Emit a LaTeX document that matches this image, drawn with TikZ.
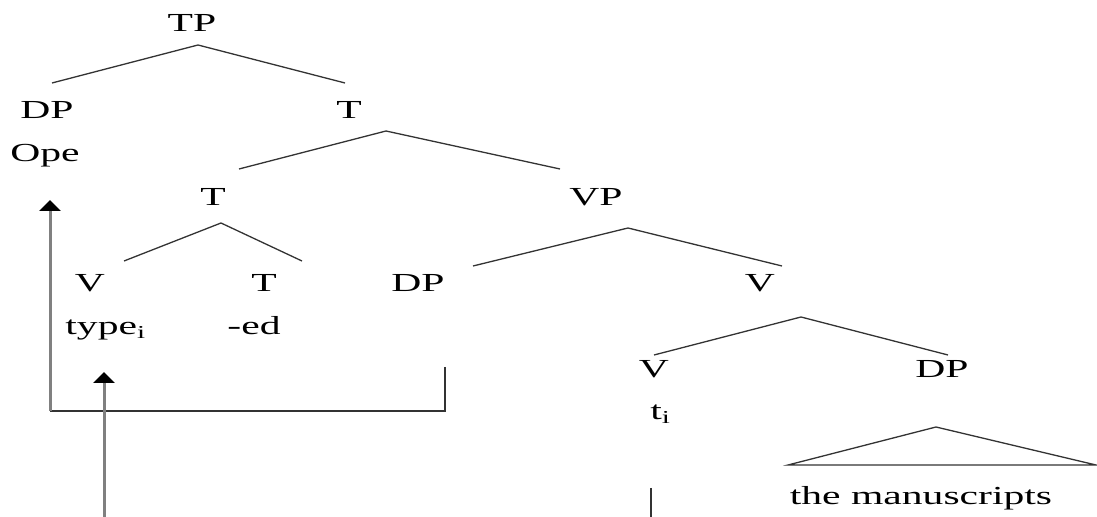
\documentclass[tikz,border=0pt]{standalone}
\usepackage{fontspec}
\setmainfont{Liberation Serif}[FakeStretch=1.6]
\usetikzlibrary{arrows.meta}
\definecolor{treeline}{HTML}{333333}
\definecolor{arrowgray}{HTML}{808080}
\begin{document}
\begin{tikzpicture}[x=0.5pt,y=-0.5pt,
  lbl/.style={anchor=base,inner sep=0pt,font=\fontsize{13}{15}\selectfont},
  branch/.style={draw=treeline,line width=0.65pt},
  movearrow/.style={draw=arrowgray,line width=1.5pt,-{Triangle[width=10.5pt,length=5.5pt,black]}},
  movebox/.style={draw=treeline,line width=0.75pt}]
\useasboundingbox (0,0) rectangle (1097,517);
% labels
\node[lbl] (TP) at (192,32) {TP};
\node[lbl] (DPa) at (47,119) {DP};
\node[lbl] (Ope) at (45,162) {Ope};
\node[lbl] (Ta) at (349,119) {T};
\node[lbl] (Tb) at (213,206) {T};
\node[lbl] (VP) at (596,206) {VP};
\node[lbl] (Va) at (90,292) {V};
\node[lbl] (Tc) at (264,292) {T};
\node[lbl] (DPb) at (418,292) {DP};
\node[lbl] (Vb) at (760,292) {V};
\node[lbl,anchor=base west] (type) at (65,335) {type\textsubscript{i}};
\node[lbl] (ed) at (254,335) {-ed};
\node[lbl] (Vc) at (654,378) {V};
\node[lbl] (DPc) at (942,378) {DP};
\node[lbl,anchor=base west] (ti) at (650,420) {t\textsubscript{i}};
\node[lbl] (ms) at (921,505) {the manuscripts};
% branch points
\coordinate (TPa) at (198,45);
\coordinate (TPl) at (52,83);
\coordinate (TPr) at (345,83);
\coordinate (Taa) at (386,131);
\coordinate (Tal) at (239,169);
\coordinate (Tar) at (560,169);
\coordinate (Tba) at (221,223);
\coordinate (Tbl) at (124,261);
\coordinate (Tbr) at (302,261);
\coordinate (VPa) at (628,228);
\coordinate (VPl) at (473,266);
\coordinate (VPr) at (782,266);
\coordinate (Vba) at (801,317);
\coordinate (Vbl) at (654,355);
\coordinate (Vbr) at (948,355);
\coordinate (tra) at (936,427);
\coordinate (trl) at (788,465);
\coordinate (trr) at (1096,465);
\draw[branch] (TPl) -- (TPa) -- (TPr);
\draw[branch] (Tal) -- (Taa) -- (Tar);
\draw[branch] (Tbl) -- (Tba) -- (Tbr);
\draw[branch] (VPl) -- (VPa) -- (VPr);
\draw[branch] (Vbl) -- (Vba) -- (Vbr);
\draw[branch] (trl) -- (tra) -- (trr) -- cycle;
% movement lines
\coordinate (bxr) at (445,367);
\coordinate (bxc) at (445,411);
\coordinate (bxl) at (50,411);
\coordinate (opet) at (50,200);
\coordinate (tyb) at (104,517);
\coordinate (tyt) at (104,372);
\coordinate (tit) at (651,488);
\coordinate (tib) at (651,517);
\draw[movebox] (bxr) -- (bxc) -- (bxl);
\draw[movearrow] (bxl) -- (opet);
\draw[movearrow] (tyb) -- (tyt);
\draw[movebox] (tit) -- (tib);
\end{tikzpicture}
\end{document}
